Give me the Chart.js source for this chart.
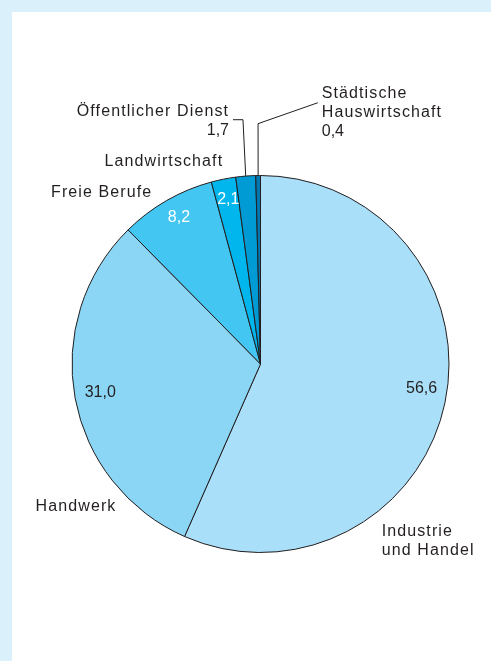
<!DOCTYPE html>
<html>
<head>
<meta charset="utf-8">
<script src="https://cdn.jsdelivr.net/npm/chart.js@4/dist/chart.umd.min.js"></script>
<style>
  html, body { margin: 0; padding: 0; background: #ffffff; }
  #wrap { width: 491px; height: 661px; position: relative; }
</style>
</head>
<body>
<div id="wrap"><canvas id="c" width="491" height="661"></canvas></div>
<script>
// Shares (in %) by sector, clockwise from 12 o'clock
const categories = ['Industrie und Handel', 'Handwerk', 'Freie Berufe', 'Landwirtschaft', 'Öffentlicher Dienst', 'Städtische Hauswirtschaft'];
const shares = [56.6, 31.0, 8.2, 2.1, 1.7, 0.4];
const nameLines = [['Industrie', 'und Handel'], ['Handwerk'], ['Freie Berufe'], ['Landwirtschaft'], ['Öffentlicher Dienst'], ['Städtische', 'Hauswirtschaft']];
const sliceColors = ['#aadff9', '#8bd6f5', '#43c6f1', '#00b6ec', '#009bd4', '#0077b1'];

const fmt = v => v.toFixed(1).replace('.', ',');
const FONT = '16px "Liberation Sans", Arial, sans-serif';
const INK = '#231f20';
const LINE_H = 19;

// Label layout, in units of the pie radius relative to the pie centre.
// inside: value drawn inside the slice; otherwise appended under the name.
const layout = [
  { x: 0.643, y: 0.913, align: 'left', inside: true, valueColor: INK, nudge: -1.8 },
  { x: -1.193, y: 0.780, align: 'left', inside: true, valueColor: INK, nudge: -1.2 },
  { x: -0.574, y: -0.884, align: 'right', inside: true, valueColor: '#ffffff', nudge: 0 },
  { x: -0.198, y: -1.053, align: 'right', inside: true, valueColor: '#ffffff', nudge: 0 },
  { x: -0.167, y: -1.317, align: 'right', inside: false,
    leader: [[-0.093, -1.296], [-0.146, -1.296]] },
  { x: 0.325, y: -1.413, align: 'left', inside: false,
    leader: [[-0.013, -1.275], [0.304, -1.386]] }
];

const framePlugin = {
  id: 'frame',
  beforeDraw(chart) {
    const ctx = chart.ctx;
    ctx.save();
    ctx.fillStyle = '#daf0fb';
    ctx.fillRect(0, 0, chart.width, chart.height);
    ctx.fillStyle = '#ffffff';
    ctx.fillRect(12, 12, chart.width - 12, chart.height - 12);
    ctx.restore();
  }
};

const labelPlugin = {
  id: 'sliceLabels',
  afterDatasetsDraw(chart) {
    const ctx = chart.ctx;
    const arcs = chart.getDatasetMeta(0).data;
    ctx.save();
    ctx.font = FONT;
    ctx.lineWidth = 1;
    ctx.strokeStyle = INK;
    arcs.forEach((arc, i) => {
      const p = arc.getProps(['x', 'y', 'startAngle', 'endAngle', 'outerRadius'], true);
      const r = p.outerRadius, cx = p.x, cy = p.y;
      const mid = (p.startAngle + p.endAngle) / 2;
      const L = layout[i];

      // leader line from the slice edge
      if (L.leader) {
        ctx.beginPath();
        ctx.moveTo(cx + Math.cos(mid) * r, cy + Math.sin(mid) * r);
        L.leader.forEach(([fx, fy]) => ctx.lineTo(cx + fx * r, cy + fy * r));
        ctx.stroke();
      }

      // category name, with a slightly open tracking
      ctx.fillStyle = INK;
      ctx.textAlign = L.align;
      ctx.textBaseline = 'alphabetic';
      const tx = cx + L.x * r, ty = cy + L.y * r;
      ctx.letterSpacing = '1.1px';
      nameLines[i].forEach((t, k) => ctx.fillText(t, tx, ty + k * LINE_H));
      ctx.letterSpacing = '0px';

      if (L.inside) {
        // value inside the slice
        const a = mid + L.nudge * Math.PI / 180;
        ctx.fillStyle = L.valueColor;
        ctx.textAlign = 'center';
        ctx.fillText(fmt(shares[i]), cx + Math.cos(a) * r * 0.868, cy + Math.sin(a) * r * 0.868);
      } else {
        // value under the name
        ctx.fillText(fmt(shares[i]), tx, ty + nameLines[i].length * LINE_H);
      }
    });
    ctx.restore();
  }
};

new Chart(document.getElementById('c'), {
  type: 'pie',
  data: {
    labels: categories,
    datasets: [{
      data: shares,
      backgroundColor: sliceColors,
      borderColor: INK,
      borderWidth: 1
    }]
  },
  options: {
    responsive: false,
    animation: false,
    events: [],
    rotation: 0,
    layout: { padding: { left: 71.5, right: 41.5, top: 175, bottom: 108 } },
    plugins: { legend: { display: false }, tooltip: { enabled: false } }
  },
  plugins: [framePlugin, labelPlugin]
});
</script>
</body>
</html>
